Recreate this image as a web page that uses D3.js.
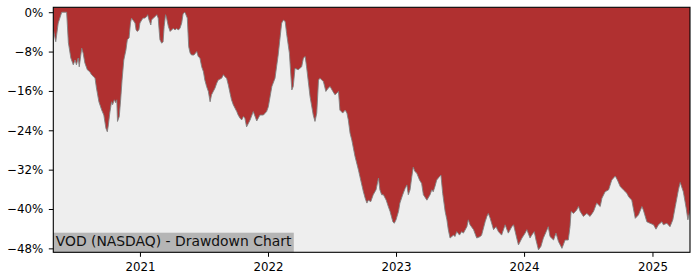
<!DOCTYPE html>
<html>
<head>
<meta charset="utf-8">
<script src="https://cdn.jsdelivr.net/npm/d3@7"></script>
<style>
  body { margin: 0; background: #fff; }
  svg { display: block; font-family: "DejaVu Sans", sans-serif; }
</style>
</head>
<body>
<script>
// Drawdown from running peak, in percent
const dates = [
  "2020-04-29","2020-05-06","2020-05-13","2020-05-23","2020-06-06","2020-06-11","2020-06-18","2020-06-25","2020-06-30","2020-07-04","2020-07-09","2020-07-12","2020-07-19","2020-07-23","2020-07-28","2020-08-04","2020-08-11","2020-08-16","2020-08-26","2020-08-30","2020-09-06","2020-09-14","2020-09-20","2020-09-26","2020-09-30","2020-10-03","2020-10-07","2020-10-12","2020-10-15","2020-10-20","2020-10-24","2020-10-27","2020-10-29","2020-11-03","2020-11-07","2020-11-11","2020-11-16","2020-11-22","2020-11-26","2020-12-01","2020-12-05","2020-12-08","2020-12-12","2020-12-18","2020-12-21","2020-12-24","2020-12-29",
  "2021-01-01","2021-01-06","2021-01-10","2021-01-15","2021-01-20","2021-01-23","2021-01-27","2021-02-01","2021-02-03","2021-02-08","2021-02-13","2021-02-18","2021-02-22","2021-02-25","2021-02-27","2021-03-04","2021-03-08","2021-03-11","2021-03-15","2021-03-18","2021-03-23","2021-03-28","2021-04-01","2021-04-06","2021-04-11","2021-04-16","2021-04-20","2021-04-25","2021-04-30","2021-05-04","2021-05-09","2021-05-12","2021-05-16","2021-05-20","2021-05-24","2021-05-28","2021-06-04","2021-06-12","2021-06-16","2021-06-21","2021-06-26","2021-07-01","2021-07-05","2021-07-10","2021-07-15","2021-07-20","2021-07-24","2021-07-29","2021-08-03","2021-08-08","2021-08-12","2021-08-22","2021-08-27","2021-08-31","2021-09-05","2021-09-10","2021-09-15","2021-09-19","2021-09-24","2021-09-29","2021-10-04","2021-10-08","2021-10-13","2021-10-18","2021-10-23","2021-10-27","2021-11-01","2021-11-06","2021-11-11","2021-11-20","2021-11-30","2021-12-09","2021-12-19","2021-12-28",
  "2022-01-02","2022-01-12","2022-01-21","2022-01-30","2022-02-09","2022-02-14","2022-02-19","2022-02-23","2022-03-03","2022-03-10","2022-03-14","2022-03-19","2022-03-28","2022-04-07","2022-04-12","2022-04-17","2022-04-21","2022-05-01","2022-05-10","2022-05-15","2022-05-20","2022-05-25","2022-05-29","2022-06-08","2022-06-15","2022-06-22","2022-06-27","2022-07-05","2022-07-11","2022-07-21","2022-07-25","2022-08-02","2022-08-09","2022-08-14","2022-08-18","2022-08-23","2022-08-28","2022-09-06","2022-09-16","2022-09-20","2022-09-30","2022-10-05","2022-10-10","2022-10-14","2022-10-21","2022-10-28","2022-11-05","2022-11-12","2022-11-16","2022-11-21","2022-11-26","2022-12-04","2022-12-10","2022-12-15","2022-12-23","2022-12-27",
  "2023-01-01","2023-01-08","2023-01-12","2023-01-20","2023-01-27","2023-02-01","2023-02-05","2023-02-10","2023-02-15","2023-02-19","2023-02-24","2023-03-01","2023-03-09","2023-03-15","2023-03-20","2023-03-30","2023-04-08","2023-04-13","2023-04-17","2023-04-22","2023-04-27","2023-05-05","2023-05-09","2023-05-14","2023-05-21","2023-05-26","2023-05-30","2023-06-04","2023-06-14","2023-06-18","2023-06-23","2023-07-01","2023-07-07","2023-07-12","2023-07-22","2023-07-26","2023-07-31","2023-08-10","2023-08-19","2023-08-29","2023-09-02","2023-09-12","2023-09-17","2023-09-21","2023-09-26","2023-10-06","2023-10-13","2023-10-20","2023-10-29","2023-11-08","2023-11-17","2023-11-27","2023-12-02","2023-12-11","2023-12-16","2023-12-26",
  "2024-01-04","2024-01-09","2024-01-18","2024-01-23","2024-01-30","2024-02-04","2024-02-11","2024-02-18","2024-02-25","2024-03-04","2024-03-10","2024-03-15","2024-03-25","2024-04-01","2024-04-08","2024-04-18","2024-04-27","2024-05-06","2024-05-11","2024-05-14","2024-05-21","2024-05-30","2024-06-04","2024-06-09","2024-06-18","2024-06-28","2024-07-07","2024-07-17","2024-07-26","2024-08-05","2024-08-10","2024-08-19","2024-08-29","2024-09-07","2024-09-17","2024-09-23","2024-10-01","2024-10-10","2024-10-20","2024-10-25","2024-11-03","2024-11-13","2024-11-22","2024-12-02","2024-12-06","2024-12-16","2024-12-25",
  "2025-01-04","2025-01-11","2025-01-18","2025-01-28","2025-02-01","2025-02-11","2025-02-20","2025-02-28","2025-03-07","2025-03-16","2025-03-21","2025-03-30","2025-04-07","2025-04-12","2025-04-18"
];
const drawdown = [
  -3.5,-6.0,-2.2,0,0,-6.2,-9.3,-10.7,-9.7,-10.7,-9.3,-11.1,-7.3,-8.3,-10.3,-11.7,-12.1,-12.7,-13.4,-15.4,-18.2,-19.9,-20.9,-23.6,-24.3,-22.9,-20.5,-18.2,-18.8,-17.8,-18.4,-17.8,-22.2,-21.2,-17.8,-13.8,-9.7,-7.7,-5.6,-5.2,-2.2,-1.2,-1.6,-2.2,-3.6,-3.9,-3.6,
  -2.2,-1.6,-1.2,-1.2,-0.9,-0.5,-1.6,-2.6,-1.6,-1.2,-0.9,-0.5,-1.2,-3.9,-5.6,-6.3,-6.0,-2.9,-0.5,-1.2,-2.9,-3.9,-3.6,-3.3,-3.6,-3.3,-3.6,-3.3,-2.2,-0.3,0,-0.5,-1.2,-7.0,-8.3,-8.7,-8.7,-8.0,-9.0,-9.3,-11.1,-12.1,-13.8,-15.1,-16.1,-18.2,-16.8,-16.1,-15.4,-14.4,-13.8,-13.4,-12.7,-13.1,-13.4,-14.8,-16.5,-17.8,-18.8,-19.5,-20.2,-20.9,-21.5,-21.9,-21.2,-21.5,-23.3,-22.6,-21.9,-20.2,-22.1,-20.9,-20.9,-20.2,
  -19.2,-15.1,-13.4,-8.7,-2.2,-1.6,-1.9,-4.3,-8.3,-15.8,-15.1,-11.4,-11.7,-11.1,-9.3,-9.0,-11.1,-17.2,-20.9,-22.2,-20.5,-13.8,-13.4,-14.1,-16.1,-15.4,-15.1,-16.1,-16.8,-16.1,-19.9,-20.5,-19.9,-20.5,-21.9,-24.6,-26.0,-29.3,-32.1,-33.4,-36.5,-37.8,-38.8,-38.2,-38.5,-37.1,-36.1,-33.7,-36.1,-37.1,-37.1,-38.2,-39.5,-40.5,-42.6,-42.9,
  -42.2,-40.5,-38.8,-37.1,-35.8,-35.1,-37.1,-36.1,-33.4,-31.5,-32.4,-32.7,-34.1,-34.8,-37.1,-38.2,-37.1,-36.1,-36.5,-35.4,-34.1,-33.4,-33.1,-36.8,-40.5,-42.2,-44.2,-45.9,-45.3,-45.6,-44.6,-45.3,-44.6,-44.9,-43.6,-42.2,-43.2,-44.2,-45.9,-45.6,-45.3,-42.6,-41.5,-40.9,-41.8,-44.2,-43.6,-44.6,-45.3,-43.2,-44.9,-43.6,-43.2,-45.9,-47.3,-45.9,
  -44.9,-44.2,-45.9,-45.3,-44.6,-46.3,-48.3,-47.6,-45.9,-44.6,-43.6,-45.6,-46.3,-44.9,-46.6,-48.0,-46.3,-46.3,-43.6,-40.5,-40.9,-40.2,-39.5,-40.5,-41.5,-40.9,-41.5,-40.5,-38.8,-39.5,-37.8,-36.5,-36.1,-34.1,-33.3,-34.1,-35.4,-36.1,-36.8,-37.5,-38.2,-41.9,-41.2,-39.5,-40.2,-42.6,-42.9,
  -43.2,-44.1,-43.2,-42.6,-43.2,-42.9,-43.6,-42.2,-39.5,-36.1,-34.6,-36.5,-39.8,-42.2,-40.2
];
const yTicks = [0, -8, -16, -24, -32, -40, -48];
const yLimits = [-48.8, 1.0];
const xTicks = ["2021-01-01", "2022-01-01", "2023-01-01", "2024-01-01", "2025-01-01"];
const chartLabel = "VOD (NASDAQ) - Drawdown Chart";

const width = 700, height = 280;
const marginTop = 7.3, marginRight = 10, marginBottom = 27.7, marginLeft = 53.3;

const parse = d3.utcParse("%Y-%m-%d");
const data = dates.map((d, i) => ({date: parse(d), value: drawdown[i]}));

const x = d3.scaleUtc(d3.extent(data, d => d.date), [marginLeft, width - marginRight]);
const y = d3.scaleLinear(yLimits, [height - marginBottom, marginTop]);

const svg = d3.select("body").append("svg")
  .attr("width", width)
  .attr("height", height)
  .attr("viewBox", [0, 0, width, height]);

svg.append("clipPath").attr("id", "clip")
  .append("rect")
  .attr("x", marginLeft).attr("y", marginTop)
  .attr("width", width - marginLeft - marginRight)
  .attr("height", height - marginTop - marginBottom);

// plot background
svg.append("rect")
  .attr("x", marginLeft).attr("y", marginTop)
  .attr("width", width - marginLeft - marginRight)
  .attr("height", height - marginTop - marginBottom)
  .attr("fill", "#eeeeee");

const area = d3.area()
  .x(d => x(d.date))
  .y0(marginTop)
  .y1(d => y(d.value));

const line = d3.line()
  .x(d => x(d.date))
  .y(d => y(d.value));

const plot = svg.append("g").attr("clip-path", "url(#clip)");

plot.append("path")
  .datum(data)
  .attr("fill", "#b03030")
  .attr("d", area);

plot.append("path")
  .datum(data)
  .attr("fill", "none")
  .attr("stroke", "#808080")
  .attr("stroke-width", 0.9)
  .attr("d", line);

// label box in the lower left corner
const label = svg.append("g");
const labelText = label.append("text")
  .attr("x", marginLeft + 2.4)
  .attr("y", 246)
  .attr("font-size", 13.9)
  .attr("fill", "#111")
  .text(chartLabel);
const tw = labelText.node().getComputedTextLength();
label.insert("rect", "text")
  .attr("x", marginLeft)
  .attr("y", 232.7)
  .attr("width", tw + 4.8)
  .attr("height", height - marginBottom - 232.7)
  .attr("fill", "#b5b5b5");

// axes
svg.append("g")
  .attr("transform", `translate(${marginLeft},0)`)
  .call(d3.axisLeft(y)
    .tickValues(yTicks)
    .tickFormat(d => (d < 0 ? "\u2212" : "") + Math.abs(d) + "%")
    .tickSize(4.5)
    .tickPadding(5.5))
  .call(g => g.select(".domain").remove())
  .call(g => g.selectAll("text").attr("font-size", 11.8).attr("font-family", "DejaVu Sans").attr("fill", "#000"));

svg.append("g")
  .attr("transform", `translate(0,${height - marginBottom})`)
  .call(d3.axisBottom(x)
    .tickValues(xTicks.map(parse))
    .tickFormat(d3.utcFormat("%Y"))
    .tickSize(4.5)
    .tickPadding(6))
  .call(g => g.select(".domain").remove())
  .call(g => g.selectAll("text").attr("font-size", 11.8).attr("font-family", "DejaVu Sans").attr("fill", "#000"));

// frame
svg.append("rect")
  .attr("x", marginLeft).attr("y", marginTop)
  .attr("width", width - marginLeft - marginRight)
  .attr("height", height - marginTop - marginBottom)
  .attr("fill", "none")
  .attr("stroke", "#000")
  .attr("stroke-width", 1.1);
</script>
</body>
</html>
